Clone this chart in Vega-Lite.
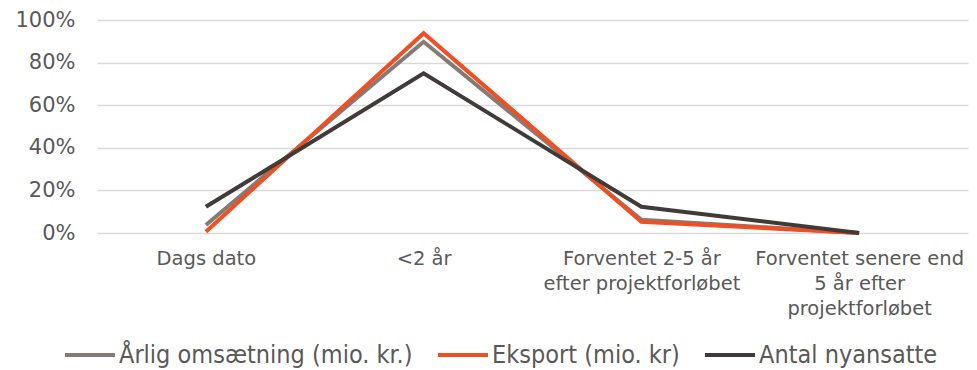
{
  "$schema": "https://vega.github.io/schema/vega-lite/v6.json",
  "autosize": "none",
  "width": 871,
  "height": 213,
  "padding": {"left": 97, "top": 20, "right": 9, "bottom": 137},
  "background": "white",
  "config": {"view": {"stroke": null}},
  "data": {
    "values": [
      {"kategori": "Dags dato", "serie": "Årlig omsætning (mio. kr.)", "andel": 0.038},
      {"kategori": "<2 år", "serie": "Årlig omsætning (mio. kr.)", "andel": 0.898},
      {"kategori": "Forventet 2-5 år efter projektforløbet", "serie": "Årlig omsætning (mio. kr.)", "andel": 0.062},
      {"kategori": "Forventet senere end 5 år efter projektforløbet", "serie": "Årlig omsætning (mio. kr.)", "andel": 0.0},
      {"kategori": "Dags dato", "serie": "Eksport (mio. kr)", "andel": 0.006},
      {"kategori": "<2 år", "serie": "Eksport (mio. kr)", "andel": 0.938},
      {"kategori": "Forventet 2-5 år efter projektforløbet", "serie": "Eksport (mio. kr)", "andel": 0.053},
      {"kategori": "Forventet senere end 5 år efter projektforløbet", "serie": "Eksport (mio. kr)", "andel": 0.0},
      {"kategori": "Dags dato", "serie": "Antal nyansatte", "andel": 0.123},
      {"kategori": "<2 år", "serie": "Antal nyansatte", "andel": 0.75},
      {"kategori": "Forventet 2-5 år efter projektforløbet", "serie": "Antal nyansatte", "andel": 0.123},
      {"kategori": "Forventet senere end 5 år efter projektforløbet", "serie": "Antal nyansatte", "andel": 0.0}
    ]
  },
  "mark": {"type": "line", "strokeWidth": 4, "strokeJoin": "miter"},
  "encoding": {
    "x": {
      "field": "kategori",
      "type": "nominal",
      "sort": ["Dags dato", "<2 år", "Forventet 2-5 år efter projektforløbet", "Forventet senere end 5 år efter projektforløbet"],
      "scale": {"type": "point", "padding": 0.5},
      "axis": {
        "title": null,
        "labelAngle": 0,
        "domain": false,
        "ticks": false,
        "grid": false,
        "labelFont": "DejaVu Sans",
        "labelFontSize": 19.5,
        "labelColor": "#595959",
        "labelPadding": 16,
        "labelLineHeight": 25,
        "labelLimit": 300,
        "labelExpr": "datum.label == 'Forventet 2-5 år efter projektforløbet' ? ['Forventet 2-5 år', 'efter projektforløbet'] : datum.label == 'Forventet senere end 5 år efter projektforløbet' ? ['Forventet senere end', '5 år efter', 'projektforløbet'] : datum.label"
      }
    },
    "y": {
      "field": "andel",
      "type": "quantitative",
      "scale": {"domain": [0, 1], "nice": false},
      "axis": {
        "title": null,
        "values": [0, 0.2, 0.4, 0.6, 0.8, 1],
        "format": ".0%",
        "domain": false,
        "ticks": false,
        "gridColor": "#d9d9d9",
        "gridWidth": 1.5,
        "labelFont": "DejaVu Sans",
        "labelFontSize": 21,
        "labelColor": "#595959",
        "labelPadding": 22
      }
    },
    "color": {
      "field": "serie",
      "type": "nominal",
      "sort": ["Årlig omsætning (mio. kr.)", "Eksport (mio. kr)", "Antal nyansatte"],
      "scale": {
        "domain": ["Årlig omsætning (mio. kr.)", "Eksport (mio. kr)", "Antal nyansatte"],
        "range": ["#857b74", "#f04e23", "#403b38"]
      },
      "legend": {
        "title": null,
        "orient": "none",
        "direction": "horizontal",
        "legendX": -34,
        "legendY": 308,
        "symbolType": "stroke",
        "symbolStrokeWidth": 4,
        "symbolSize": 2500,
        "labelFont": "DejaVu Sans Condensed",
        "labelFontSize": 25,
        "labelColor": "#595959",
        "labelOffset": 2,
        "columnPadding": 17,
        "labelLimit": 400
      }
    }
  }
}
